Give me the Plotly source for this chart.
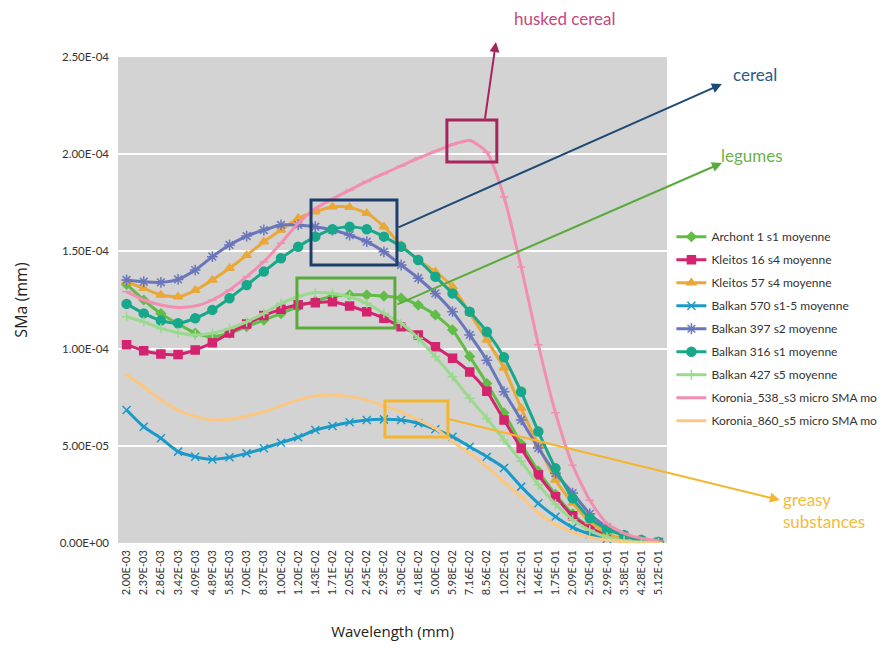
import plotly.graph_objects as go
import numpy as np

# ---------------- data ----------------
wavelength_labels = ["2.00E-03", "2.39E-03", "2.86E-03", "3.42E-03", "4.09E-03", "4.89E-03",
                     "5.85E-03", "7.00E-03", "8.37E-03", "1.00E-02", "1.20E-02", "1.43E-02",
                     "1.71E-02", "2.05E-02", "2.45E-02", "2.93E-02", "3.50E-02", "4.18E-02",
                     "5.00E-02", "5.98E-02", "7.16E-02", "8.56E-02", "1.02E-01", "1.22E-01",
                     "1.46E-01", "1.75E-01", "2.09E-01", "2.50E-01", "2.99E-01", "3.58E-01",
                     "4.28E-01", "5.12E-01"]

# SMa values in units of 1e-6 mm
archont_1 = [133, 125, 118, 112.7, 108, 106, 108, 111.3, 114.7, 118, 121.6, 124.5, 126.8, 127.6,
             127.6, 127, 126, 122.4, 117.3, 109.6, 96, 82, 67, 51, 37, 25, 15, 8, 4, 1.8, 0.7, 0.3]
kleitos_16 = [102, 98.9, 97.2, 97, 99.3, 103, 108, 112.6, 117, 120.2, 122.6, 123.6, 124.1, 121.9,
              119, 115.6, 111.3, 107, 101, 95, 88, 78, 63.3, 48.7, 35, 23.8, 14, 8, 4, 1.8, 0.7, 0.3]
kleitos_57 = [134.4, 131, 127.6, 126.7, 130, 135.3, 141.3, 148, 155, 161, 167, 170.4, 173, 172.7,
              169.6, 162.7, 153.3, 145.6, 139.6, 131.8, 118.2, 104.4, 90, 69.3, 50.4, 32.4, 20.6,
              11, 5, 2, 0.8, 0.3]
balkan_570 = [68.4, 59.8, 53.9, 47, 44.4, 43, 44.1, 46.1, 48.7, 51.6, 54.4, 58.1, 60.2, 62.1, 63.3,
              63.6, 63.3, 61.6, 58.5, 54.7, 49.5, 44.4, 38.6, 29, 20.4, 13.5, 8, 4.5, 2.2, 1, 0.4, 0.2]
balkan_397 = [135.3, 134.4, 134.1, 135.6, 140.4, 147.3, 153.3, 157.9, 161, 163.6, 163.6, 162.7, 161,
              158.4, 155, 149.8, 143, 136.2, 128.4, 119, 107, 94, 77.8, 63.3, 48.9, 35.9, 25.7, 15,
              8, 4, 1.5, 0.5]
balkan_316 = [123, 118.1, 114.4, 113, 115.6, 119.9, 125.9, 132.7, 139.6, 146.5, 152.4, 157.6, 161.4,
              162.7, 161.4, 157.6, 152.4, 145.6, 137, 128.4, 119, 108.7, 95.5, 77.8, 57.3, 38.4, 23,
              12.7, 7, 4, 1.5, 0.5]
balkan_427 = [116.4, 113.8, 110.4, 108.2, 107, 107.9, 110.4, 113.8, 118.1, 123.3, 126.7, 128.8, 128.4,
              126.7, 123.3, 118.1, 113, 105.3, 95.8, 85.5, 74.4, 64.1, 53, 42, 30, 20, 12, 6.5, 3,
              1.2, 0.5, 0.2]
koronia_538 = [129.3, 125, 122.4, 121.2, 121.9, 125, 130.1, 137, 144.7, 154.2, 164.5, 172, 177, 181.5,
               186, 190, 194, 198, 201.5, 205, 207, 201, 178, 142, 102, 67, 40, 22, 10, 5, 2.4, 1]
koronia_860 = [86.5, 80.4, 73.6, 68.4, 65, 63.3, 63.6, 65.3, 67.5, 70.5, 73.6, 75.6, 76.1, 75.3, 73.6,
               70.5, 67.5, 63.3, 59, 52.1, 46.1, 39.2, 31.5, 23.8, 15.3, 9.5, 5.5, 3, 1.5, 0.7, 0.3, 0.1]

y_tick_values = [0, 5e-5, 1e-4, 1.5e-4, 2e-4, 2.5e-4]
y_tick_labels = ["0.00E+00", "5.00E-05", "1.00E-04", "1.50E-04", "2.00E-04", "2.50E-04"]

series = [
    ("Archont 1 s1 moyenne", archont_1, "#62BD48", "diamond", 7),
    ("Kleitos 16 s4 moyenne", kleitos_16, "#D4236F", "square", 8),
    ("Kleitos 57 s4 moyenne", kleitos_57, "#E9A838", "triangle-up", 8),
    ("Balkan 570 s1-5 moyenne", balkan_570, "#1B9AC8", "x-thin-open", 8),
    ("Balkan 397 s2 moyenne", balkan_397, "#6976BC", "asterisk-open", 9),
    ("Balkan 316 s1 moyenne", balkan_316, "#17A88B", "circle", 9),
    ("Balkan 427 s5 moyenne", balkan_427, "#9AD98E", "cross-thin-open", 7),
    ("Koronia_538_s3 micro SMA mo", koronia_538, "#F38EB0", "line-ew-open", 6),
    ("Koronia_860_s5 micro SMA mo", koronia_860, "#FBC884", "line-ew-open", 5),
]

fig = go.Figure()
for i, (name, vals, color, sym, size) in enumerate(series):
    fig.add_trace(go.Scatter(
        x=wavelength_labels, y=np.array(vals) * 1e-6, name=name, mode="lines+markers",
        line=dict(color=color, width=3, shape="spline", smoothing=0.6),
        marker=dict(symbol=sym, size=size, color=color, line=dict(color=color, width=1.5)),
        legendgroup=f"g{i}",
    ))

# annotation boxes (data coordinates: category index / SMa value)
boxes = [
    (18.67, 21.58, 1.960e-4, 2.176e-4, "#A8245F"),
    (10.75, 15.76, 1.430e-4, 1.764e-4, "#1E3F6E"),
    (9.93, 15.64, 1.106e-4, 1.363e-4, "#5AAA3C"),
    (15.06, 18.73, 0.545e-4, 0.730e-4, "#F5B52E"),
]
for x0, x1, y0, y1, c in boxes:
    fig.add_shape(type="rect", xref="x", yref="y", x0=x0, x1=x1, y0=y0, y1=y1,
                  line=dict(color=c, width=3), fillcolor="rgba(0,0,0,0)")

arrows = [
    (21.53, 2.577e-4, 20.88, 2.176e-4, "#A8245F"),
    (34.70, 2.361e-4, 15.76, 1.620e-4, "#1E4A78"),
    (34.70, 1.955e-4, 15.70, 1.224e-4, "#5AAA3C"),
    (38.08, 0.221e-4, 18.73, 0.638e-4, "#F5B52E"),
]
for hx, hy, tx, ty, c in arrows:
    fig.add_annotation(x=hx, y=hy, xref="x", yref="y", ax=tx, ay=ty, axref="x", ayref="y",
                       showarrow=True, arrowhead=2, arrowsize=1, arrowwidth=2, arrowcolor=c,
                       text="", standoff=0, startstandoff=0)

labels = [
    ("husked cereal", 0.814, 1.080, "#C6467E", "center"),
    ("cereal", 1.160, 0.963, "#2B5886", "center"),
    ("legumes", 1.155, 0.798, "#6CB24A", "center"),
    ("greasy<br>substances", 1.208, 0.066, "#F5BA3A", "left"),
]
for t, x, y, c, anc in labels:
    fig.add_annotation(x=x, y=y, xref="paper", yref="paper", text=t, showarrow=False,
                       xanchor=anc, yanchor="middle", align="left",
                       font=dict(family="Lato", size=17, color=c))

fig.update_layout(
    width=890, height=650,
    margin=dict(l=110, r=231, t=49, b=115),
    paper_bgcolor="white", plot_bgcolor="#D3D3D3",
    showlegend=True,
    legend=dict(x=1.008, y=0.66, xanchor="left", yanchor="top",
                font=dict(family="Lato", size=12, color="#333333"),
                bgcolor="rgba(255,255,255,0)", traceorder="grouped", tracegroupgap=4,
                itemwidth=30),
    xaxis=dict(type="category", range=[-0.5, 31.5], tickangle=-90, showgrid=False,
               tickfont=dict(family="Lato", size=11, color="#333333"), ticks="",
               ticklabelstandoff=4,
               title=dict(text="Wavelength (mm)", font=dict(family="Open Sans", size=15, color="#222222"),
                          standoff=32),
               showline=False, zeroline=False),
    yaxis=dict(range=[0, 2.5e-4], tickvals=y_tick_values, ticktext=y_tick_labels,
               showgrid=True, gridcolor="white", gridwidth=2,
               tickfont=dict(family="Lato", size=11.5, color="#333333"), ticks="",
               ticklabelstandoff=8,
               title=dict(text="SMa (mm)", font=dict(family="Open Sans", size=16, color="#222222"),
                          standoff=28),
               showline=False, zeroline=False),
)

fig.write_html("out.html")
